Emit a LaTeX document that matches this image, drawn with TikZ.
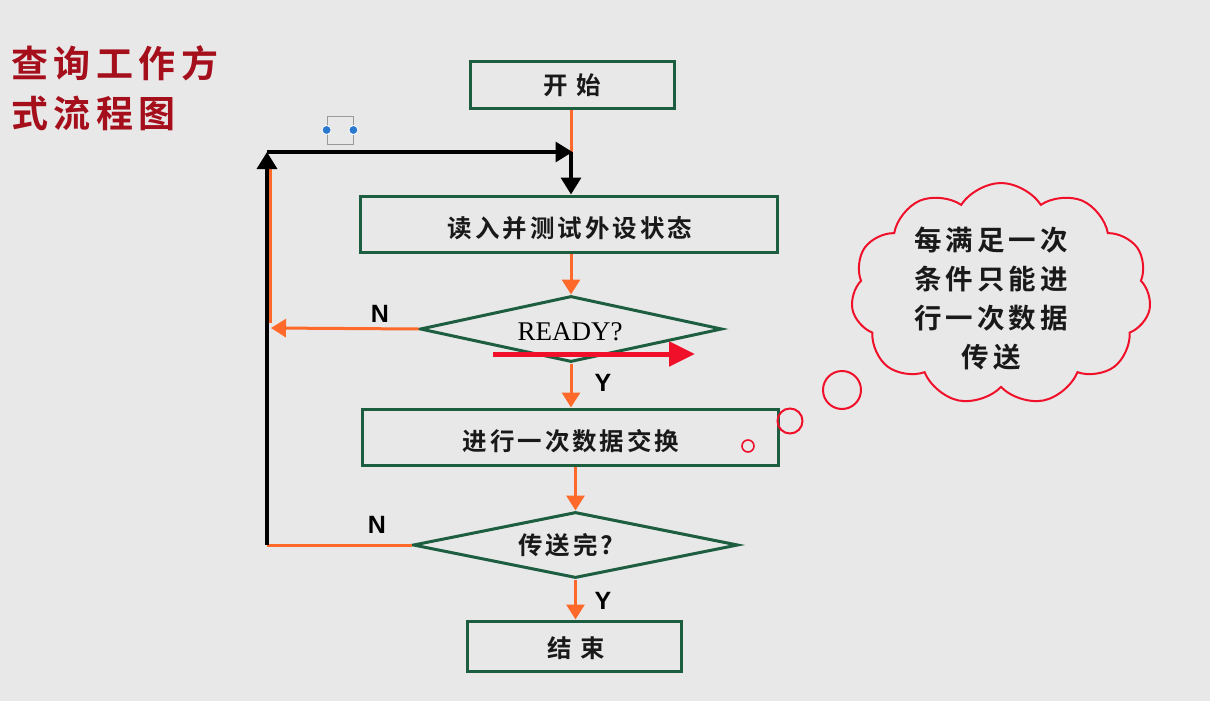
\documentclass[tikz,border=0pt]{standalone}
\usepackage{fontspec}
\usetikzlibrary{arrows.meta,shapes.geometric,shapes.symbols}
\newfontfamily\cjk{Noto Sans CJK SC Bold}[LetterSpace=12]
\newfontfamily\cjkb{Noto Sans CJK SC Bold}[LetterSpace=15]
\newfontfamily\cjkc{Noto Sans CJK SC Bold}[LetterSpace=15]
\setsansfont{Liberation Sans}
\setmainfont{Liberation Serif}
\definecolor{bg}{HTML}{E8E8E8}
\definecolor{boxgreen}{HTML}{1E5E40}
\definecolor{flow}{HTML}{FF6A2A}
\definecolor{titlered}{HTML}{A50F1C}
\definecolor{cloudred}{HTML}{F0102A}
\definecolor{handle}{HTML}{2A78D0}
\begin{document}
\begin{tikzpicture}[x=1pt,y=-1pt,
  procbox/.style={draw=boxgreen,line width=3pt,fill=bg,inner sep=0pt},
  decbox/.style={draw=boxgreen,line width=3pt,diamond,inner sep=0pt},
  boxtext/.style={font=\cjk\fontsize{24.5}{27}\selectfont,text=black!90},
  flowline/.style={draw=flow,line width=3pt},
  flowarrow/.style={flowline,-{Triangle[length=15pt,width=18pt]}},
  backline/.style={draw=black,line width=3.4pt},
  backarrow/.style={backline,-{Triangle[length=17pt,width=20pt]}},
  yn/.style={font=\sffamily\bfseries\fontsize{25}{27}\selectfont},
  cloudtext/.style={font=\cjkc\fontsize{27.5}{39}\selectfont,align=center,text=black!90}
]
\fill[bg] (0,0) rectangle (1210,701);
\useasboundingbox (0,0) rectangle (1210,701);

% title
\node[anchor=west,text=titlered,font=\cjkb\fontsize{37}{40}\selectfont,inner sep=0pt] (t1) at (11,63) {查询工作方};
\node[anchor=west,text=titlered,font=\cjkb\fontsize{37}{40}\selectfont,inner sep=0pt] (t2) at (11,113) {式流程图};

% boxes
\node[procbox,minimum width=204pt,minimum height=46pt] (start) at (572,85) {};
\node[boxtext] at (start) {开\ 始};
\node[procbox,minimum width=417pt,minimum height=56pt] (read) at (568.5,224) {};
\node[boxtext] at (570,228) {读入并测试外设状态};
\node[decbox,minimum width=302pt,minimum height=66pt,aspect=4.6] (ready) at (571,329) {};
\node[font=\rmfamily\fontsize{27}{29}\selectfont] (readyt) at (570,332) {READY?};
\node[procbox,minimum width=416pt,minimum height=56pt] (xfer) at (570,437) {};
\node[boxtext] at (571,441) {进行一次数据交换};
\node[decbox,minimum width=325pt,minimum height=66pt,aspect=4.9] (done) at (575.5,545) {};
\node[boxtext] at (566,545) {传送完?};
\node[procbox,minimum width=214pt,minimum height=50pt] (stop) at (574,646) {};
\node[boxtext] at (576,648) {结\ 束};

% coordinates
\coordinate (topR) at (571,152);
\coordinate (topL) at (267,152);
\coordinate (botL) at (267,545);
\coordinate (midL) at (271,328);
\coordinate (orTop) at (270,165);
\coordinate (orMid) at (270,323);

% flow arrows
\draw[flowline] (start.south -| topR) -- (topR);
\draw[flowarrow] (read.south -| ready.north) -- (ready.north);
\draw[flowarrow] (ready.south) -- (xfer.north -| ready.south);
\draw[flowarrow] (xfer.south -| done.north) -- (done.north);
\draw[flowarrow] (done.south) -- (stop.north -| done.south);
\draw[flowline] (orMid) -- (orTop);
\draw[flowarrow] (ready.west) -- (midL);
\draw[flowline] (done.west) -- (botL);

% loop back (black)
\draw[backarrow] (botL) -- (topL);
\draw[backarrow,shorten >=-1.5pt] (topL) -- (topR);
\draw[backarrow] (topR) -- (read.north -| topR);

% labels
\node[yn] (n1) at (380,314) {N};
\node[yn] (y1) at (603,383) {Y};
\node[yn] (n2) at (377,525) {N};
\node[yn] (y2) at (603,601) {Y};

% red arrow
\coordinate (ra1) at (493,354);
\coordinate (ra2) at (695,354);
\draw[draw=cloudred,line width=5pt,-{Triangle[length=26pt,width=24pt]}] (ra1) -- (ra2);

% cloud callout
\node[cloud,draw=cloudred,line width=2pt,cloud puffs=11,cloud puff arc=115,minimum width=300pt,minimum height=222pt,aspect=1.35] (cl) at (1001,294) {};
\node[cloudtext] (clt) at (991,299) {每满足一次\\条件只能进\\行一次数据\\传送};
\node[circle,draw=cloudred,line width=2pt,minimum size=38pt,inner sep=0pt] (b1) at (842,390) {};
\node[circle,draw=cloudred,line width=2pt,minimum size=25pt,inner sep=0pt] (b2) at (790,421) {};
\node[circle,draw=cloudred,line width=1.6pt,minimum size=12pt,inner sep=0pt] (b3) at (748,446) {};

% selection handle artifact
\node[draw=gray!80,line width=0.8pt,minimum width=26pt,minimum height=28pt,inner sep=0pt] (sel) at (340,130) {};
\fill[handle,draw=white,line width=0.8pt] (sel.west) circle (4.5pt);
\fill[handle,draw=white,line width=0.8pt] (sel.east) circle (4.5pt);
\end{tikzpicture}
\end{document}
